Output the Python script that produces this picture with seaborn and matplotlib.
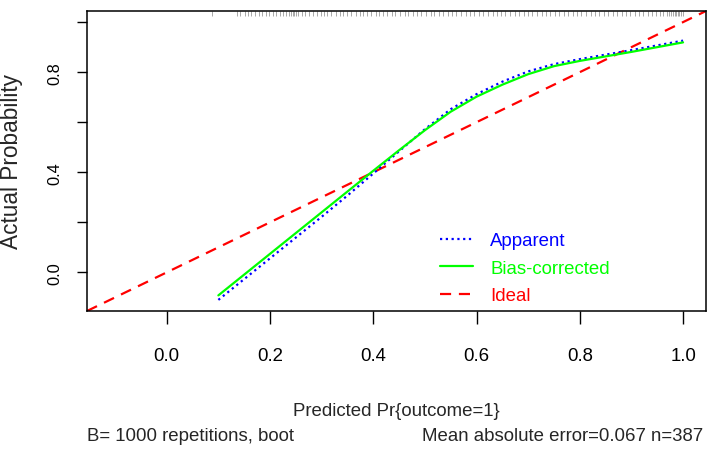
import numpy as np
import pandas as pd
import seaborn as sns
import matplotlib
matplotlib.use("Agg")
import matplotlib.pyplot as plt
from matplotlib.lines import Line2D

# calibration curves
pred_x = [0.10, 0.15, 0.20, 0.25, 0.30, 0.35, 0.40, 0.45, 0.50, 0.55,
          0.60, 0.65, 0.70, 0.75, 0.80, 0.85, 0.90, 0.95, 1.00]
apparent = [-0.110, -0.027, 0.056, 0.139, 0.222, 0.307, 0.395, 0.484, 0.572, 0.652,
            0.712, 0.762, 0.803, 0.832, 0.852, 0.870, 0.888, 0.907, 0.926]
bias_corrected = [-0.092, -0.009, 0.074, 0.157, 0.240, 0.323, 0.406, 0.488, 0.568, 0.642,
                  0.702, 0.750, 0.792, 0.824, 0.845, 0.863, 0.881, 0.900, 0.919]

# predicted values shown as the rug at the top
rug_pred = [0.088, 0.137, 0.142, 0.151, 0.158, 0.163, 0.171, 0.178, 0.184, 0.192,
            0.199, 0.205, 0.212, 0.219, 0.226, 0.231, 0.236, 0.241, 0.244, 0.247,
            0.251, 0.255, 0.262, 0.268, 0.275, 0.283, 0.291, 0.298, 0.304, 0.311,
            0.318, 0.327, 0.335, 0.342, 0.349, 0.357, 0.366, 0.374, 0.381, 0.388,
            0.396, 0.405, 0.412, 0.419, 0.427, 0.436, 0.443, 0.452, 0.461, 0.468,
            0.476, 0.485, 0.493, 0.502, 0.511, 0.518, 0.527, 0.536, 0.544, 0.553,
            0.561, 0.570, 0.579, 0.588, 0.596, 0.604, 0.613, 0.622, 0.631, 0.639,
            0.648, 0.656, 0.665, 0.674, 0.682, 0.691, 0.700, 0.708, 0.717, 0.726,
            0.734, 0.743, 0.752, 0.760, 0.769, 0.778, 0.786, 0.795, 0.803, 0.812,
            0.821, 0.829, 0.838, 0.846, 0.855, 0.864, 0.872, 0.881, 0.889, 0.898,
            0.906, 0.915, 0.923, 0.932, 0.940, 0.948, 0.955, 0.962, 0.968, 0.973,
            0.977, 0.981, 0.984, 0.987, 0.990, 0.993, 0.996, 0.999]

x_ticks = [0.0, 0.2, 0.4, 0.6, 0.8, 1.0]
x_tick_labels = ["0.0", "0.2", "0.4", "0.6", "0.8", "1.0"]
y_ticks = [0.0, 0.2, 0.4, 0.6, 0.8, 1.0]
y_tick_labels = ["0.0", "", "0.4", "", "0.8", ""]
lims = (-0.1544, 1.0444)

df = pd.DataFrame({"pred": pred_x, "apparent": apparent, "bias": bias_corrected})

sns.set_style("ticks")
plt.rcParams["font.family"] = ["Liberation Sans", "DejaVu Sans"]
fs = 13.4

fig = plt.figure(figsize=(7.14, 4.56), dpi=100)
ax = fig.add_axes([87 / 714, 1 - 312 / 456, 619 / 714, 300 / 456])

ax.axline((0, 0), slope=1, color="red", lw=1.6, linestyle=(0, (5, 3.5)), zorder=2)
sns.lineplot(data=df, x="pred", y="apparent", ax=ax, color="blue", lw=1.6,
             linestyle=(0, (1, 1.6)), zorder=3)
sns.lineplot(data=df, x="pred", y="bias", ax=ax, color="#00ff00", lw=1.6, zorder=4)
ax.vlines(rug_pred, 0.982, 1.0, transform=ax.get_xaxis_transform(),
          color="#a8a8a8", lw=0.7, zorder=1)

ax.set_xlim(lims)
ax.set_ylim(lims)
ax.set_xticks(x_ticks)
ax.set_xticklabels(x_tick_labels, fontsize=fs)
ax.set_yticks(y_ticks)
ax.set_yticklabels(y_tick_labels, fontsize=11.8, rotation=90, va="center")
ax.tick_params(axis="x", length=9.7, width=1.0, pad=16, colors="black")
ax.tick_params(axis="y", length=7.4, width=1.0, pad=10, colors="black")
for s in ax.spines.values():
    s.set_linewidth(1.1)
    s.set_color("black")

ax.set_xlabel("Predicted Pr{outcome=1}", fontsize=fs)
ax.xaxis.set_label_coords(0.5, -0.303)
ax.set_ylabel("Actual Probability", fontsize=16.3)
ax.yaxis.set_label_coords(-0.1034, 0.5)

handles = [Line2D([], [], color="blue", lw=1.6, linestyle=(0, (1, 1.6))),
           Line2D([], [], color="#00ff00", lw=1.6),
           Line2D([], [], color="red", lw=1.6, linestyle=(0, (5, 3.5)))]
ax.legend(handles, ["Apparent", "Bias-corrected", "Ideal"], loc="upper left",
          bbox_to_anchor=(0.57, 0.262), frameon=False, labelcolor="linecolor",
          prop={"size": fs}, handlelength=1.8, handletextpad=0.9,
          labelspacing=0.56, borderpad=0, borderaxespad=0)

fig.text(87 / 714, 1 - 441 / 456, "B= 1000 repetitions, boot", fontsize=fs,
         ha="left", va="baseline")
fig.text(703.5 / 714, 1 - 441 / 456, "Mean absolute error=0.067 n=387", fontsize=fs,
         ha="right", va="baseline")

fig.savefig("out.png", dpi=100)
